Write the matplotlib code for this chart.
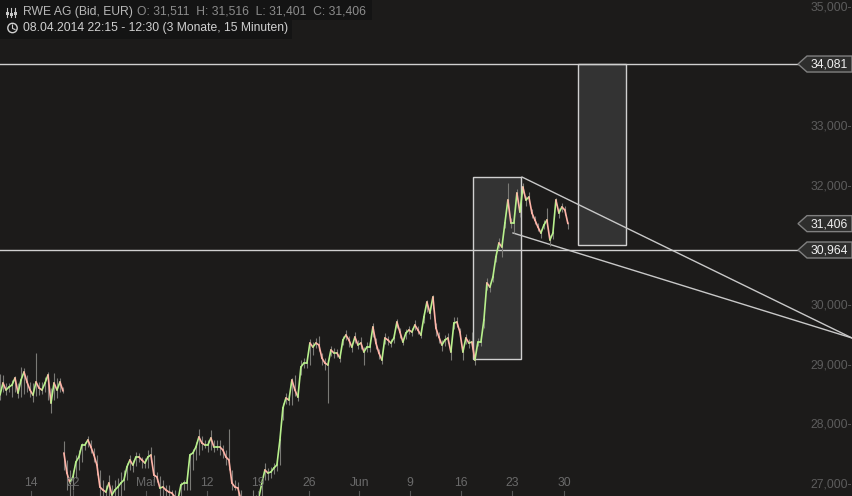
#!/usr/bin/env python3
"""RWE AG 15 minute chart, dark theme, with two boxes and a fan of trend lines."""
import matplotlib
matplotlib.use('Agg')
import matplotlib.pyplot as plt
from matplotlib.patches import Circle, Polygon, Rectangle

plt.rcParams['font.family'] = ['Liberation Sans', 'DejaVu Sans']

BG = '#1c1b1a'
UP = '#b8f08c'
DOWN = '#ffb4a8'
WICK = '#7a7a76'
PRICE_PER_PX = 16.76
TOP_PRICE = 35154

# before the gap in April
early_close = [28534, 28735, 28618, 28668, 28701, 28819, 28568, 28785, 28919, 28752, 28618,
	28534, 28752, 28651, 28618, 28735, 28869, 28400, 28735, 28618, 28752, 28601]
early_high = [28886, 28869, 28735, 28735, 28785, 28852, 28735, 29003, 28986, 28869, 28752,
	28735, 29238, 28752, 28752, 28835, 28919, 28651, 28902, 28819, 28819, 28668]
early_low = [28450, 28584, 28534, 28584, 28500, 28584, 28483, 28500, 28551, 28584, 28500,
	28416, 28517, 28534, 28551, 28584, 28450, 28232, 28450, 28483, 28584, 28568]

# after the gap
late_close = [27562, 27227, 27059, 27160, 27411, 27495, 27696, 27696, 27780, 27662, 27528,
	27361, 26992, 26942, 26908, 27059, 26858, 26942, 26992, 27059, 27109, 27327, 27444,
	27361, 27495, 27495, 27444, 27394, 27495, 27528, 27193, 27160, 26975, 26992, 26942,
	26908, 26891, 26824, 26774, 27025, 27059, 27059, 27528, 27562, 27662, 27830, 27729,
	27696, 27696, 27813, 27662, 27662, 27662, 27612, 27495, 27444, 27059, 26992, 26975,
	26774, 26690, 26690, 26724, 26824, 26774, 26824, 27059, 27277, 27227, 27243, 27310,
	27361, 27780, 28316, 28483, 28450, 28785, 28618, 28500, 29003, 29070, 29070, 29405,
	29338, 29405, 29372, 29154, 29070, 29037, 29288, 29238, 29238, 29154, 29456, 29539,
	29456, 29338, 29506, 29372, 29405, 29255, 29338, 29338, 29674, 29405, 29238, 29120,
	29489, 29456, 29405, 29489, 29757, 29590, 29422, 29573, 29623, 29590, 29707, 29623,
	29539, 29841, 30092, 29908, 30176, 29657, 29506, 29372, 29456, 29489, 29255, 29740,
	29757, 29590, 29255, 29489, 29405, 29422, 29120, 29422, 29422, 29791, 30411, 30344,
	30511, 30847, 31081, 31014, 31417, 31802, 31417, 31417, 31919, 31601, 32020, 31802,
	31852, 31584, 31467, 31350, 31249, 31383, 31467, 31132, 31249, 31802, 31584, 31685,
	31634, 31406]
late_up = [12, 13, 13, 7, 7, 7, 2, 3, 4, 7, 7, 10, 17, 10, 7, 8, 10, 10, 9, 11, 10, 4, 5, 5, 5,
	4, 3, 5, 7, 8, 20, 5, 12, 7, 5, 7, 3, 7, 5, 3, 3, 3, 2, 4, 5, 8, 7, 5, 5, 8, 7, 7, 7, 5, 7,
	31, 13, 7, 6, 10, 5, 5, 5, 7, 5, 3, 5, 7, 5, 5, 5, 5, 5, 5, 5, 3, 2, 15, 5, 7, 5, 5, 4, 5,
	5, 9, 5, 5, 3, 4, 5, 4, 3, 4, 5, 4, 4, 5, 5, 6, 5, 5, 5, 4, 5, 4, 5, 5, 4, 4, 4, 3, 4, 3,
	4, 4, 4, 5, 4, 4, 4, 2, 5, 2, 5, 5, 5, 5, 5, 5, 6, 5, 4, 4, 4, 4, 10, 4, 4, 4, 3, 5, 4, 4,
	3, 5, 4, 4, 17, 5, 5, 4, 5, 4, 4, 5, 4, 4, 4, 4, 5, 12, 5, 4, 2, 5, 4, 4, 2]
late_down = [17, 17, 13, 13, 16, 13, 17, 5, 7, 6, 7, 10, 9, 6, 8, 15, 5, 8, 9, 13, 10, 13, 10,
	7, 9, 5, 8, 5, 11, 7, 7, 5, 8, 9, 6, 4, 7, 3, 5, 11, 7, 7, 35, 17, 13, 18, 7, 3, 7, 12, 5,
	3, 8, 8, 8, 10, 7, 3, 8, 5, 5, 5, 5, 3, 5, 3, 13, 10, 7, 6, 6, 6, 25, 12, 6, 5, 25, 6, 4,
	8, 5, 5, 22, 8, 5, 6, 7, 7, 38, 6, 5, 4, 4, 5, 5, 7, 5, 6, 4, 6, 13, 5, 5, 10, 6, 6, 4, 6,
	5, 4, 5, 6, 6, 3, 6, 4, 4, 5, 4, 3, 6, 10, 6, 12, 8, 6, 6, 6, 5, 8, 6, 5, 4, 8, 6, 5, 7, 5,
	4, 4, 8, 7, 5, 5, 5, 5, 10, 5, 8, 5, 10, 5, 5, 6, 6, 4, 5, 4, 4, 5, 4, 4, 6, 6, 5, 5, 5, 5,
	5]

# 34,000 and 31,000 sit behind the price tags, so they get no label
y_ticks = [35000, 33000, 32000, 30000, 29000, 28000, 27000]
x_tick_pos = [10.3, 24.3, 48.7, 69, 86, 103, 119.7, 136.7, 153.7, 170.7, 188]
x_tick_labels = ['14', '22', 'Mai', '12', '19', '26', 'Jun', '9', '16', '23', '30']
levels = [34081, 30964]
last_close = 31406


def y_px(price):
	return (TOP_PRICE - price) / PRICE_PER_PX


def draw_bars(ax, xs, close, high, low):
	ax.vlines(xs, low, high, color=WICK, lw=0.8, zorder=3)
	for i in range(1, len(xs)):
		color = UP if close[i] >= close[i - 1] else DOWN
		ax.plot(xs[i - 1:i + 1], close[i - 1:i + 1], color=color, lw=1.2, zorder=4,
			solid_capstyle='round')


def price_tag(ui, y, text):
	pts = [(798, y), (807, y - 8), (852, y - 8), (852, y + 8), (807, y + 8)]
	ui.add_patch(Polygon(pts, closed=True, fc='#2e2e2d', ec='#808080', lw=1, zorder=6))
	ui.text(848, y + 0.5, text, color='#f0f0f0', fontsize=8.7, ha='right', va='center', zorder=7)


fig = plt.figure(figsize=(8.52, 4.96), dpi=100, facecolor=BG)
ax = fig.add_axes([0, 0, 1, 1], facecolor=BG)
ax.set_xlim(0, 284)
ax.set_ylim(TOP_PRICE - 496 * PRICE_PER_PX, TOP_PRICE)
ax.axis('off')

# boxes and trend lines
ax.add_patch(Rectangle((157.67, 29137), 16, 3050, fc='#333333', ec='#d0d0d0', lw=1, zorder=1))
ax.add_patch(Rectangle((192.67, 31048), 16, 3033, fc='#333333', ec='#d0d0d0', lw=1, zorder=1))
ax.plot([174, 284], [32187, 29489], color='#c8c8c8', lw=1, zorder=2)
ax.plot([171, 284], [31249, 29489], color='#c8c8c8', lw=1, zorder=2)
for level in levels:
	ax.plot([0, 266], [level, level], color='#d0d0d0', lw=1, zorder=2)

# price bars
early_x = list(range(len(early_close)))
late_x = [21.3 + i for i in range(len(late_close))]
draw_bars(ax, early_x, early_close, early_high, early_low)
late_high = [c + u * PRICE_PER_PX for c, u in zip(late_close, late_up)]
late_low = [c - d * PRICE_PER_PX for c, d in zip(late_close, late_down)]
draw_bars(ax, late_x, late_close, late_high, late_low)

# chrome, in screen pixels
ui = fig.add_axes([0, 0, 1, 1], facecolor='none')
ui.set_xlim(0, 852)
ui.set_ylim(496, 0)
ui.axis('off')

for price in y_ticks:
	ui.text(852, y_px(price) - 2, f'{price:,}-', color='#5c5c5c', fontsize=8.7,
		ha='right', va='center', zorder=1)
for pos, label in zip(x_tick_pos, x_tick_labels):
	ui.text(pos * 3, 483, label, color='#6a6a6a', fontsize=8.7, ha='center', va='center', zorder=0)
	ui.plot([pos * 3, pos * 3], [491, 496], color='#555555', lw=0.8, zorder=0)

for price in levels + [last_close]:
	price_tag(ui, y_px(price), f'{price:,}')

# header
ui.add_patch(Rectangle((0, 0), 372, 20, fc='#141414', ec='none', zorder=5))
ui.add_patch(Rectangle((0, 20), 292, 19, fc='#141414', ec='none', zorder=5))
for x in [7, 11, 15]:
	ui.plot([x, x], [8, 17], color='#c8c8c8', lw=0.8, zorder=6)
for x, y in [(7, 13), (11, 14), (15, 13)]:
	ui.add_patch(Rectangle((x - 1.5, y - 1.5), 3, 3, fc='#c8c8c8', ec='none', zorder=6))
ui.add_patch(Circle((12.5, 28), 4.7, fc='none', ec='#d0d0d0', lw=1, zorder=6))
ui.plot([12.5, 12.5, 15], [25, 28.5, 29.5], color='#d0d0d0', lw=0.8, zorder=6)
ui.text(23, 11.5, 'RWE AG (Bid, EUR)', color='#b8b8b8', fontsize=8.7, va='center', zorder=6)
ui.text(137, 11.5, 'O: 31,511  H: 31,516  L: 31,401  C: 31,406', color='#8c8c8c', fontsize=8.7,
	va='center', zorder=6)
ui.text(23, 28, '08.04.2014 22:15 - 12:30 (3 Monate, 15 Minuten)', color='#d0d0d0', fontsize=8.7,
	va='center', zorder=6)

fig.savefig('out.png', dpi=100, facecolor=BG)
